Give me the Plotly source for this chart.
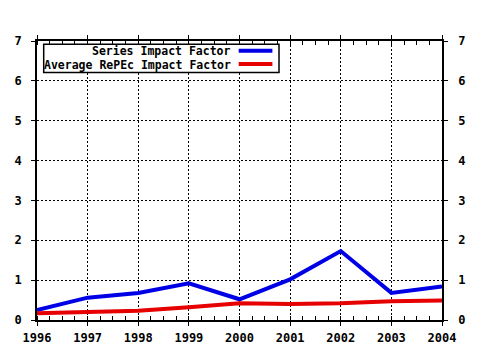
import plotly.graph_objects as go

years = [1996, 1997, 1998, 1999, 2000, 2001, 2002, 2003, 2004]
series_if = [0.25, 0.56, 0.68, 0.92, 0.52, 1.02, 1.73, 0.68, 0.84]
repec_avg = [0.17, 0.20, 0.23, 0.32, 0.42, 0.40, 0.42, 0.47, 0.49]
series_names = ["Series Impact Factor", "Average RePEc Impact Factor"]
colors = ["#0000e6", "#e60000"]

W, H = 480, 350
L, R, T, B = 37.3, 442.3, 40.7, 320.3
FONT = dict(family="DejaVu Sans Mono", size=12, color="black", weight="bold")
LFONT = dict(family="DejaVu Sans Mono", size=11.5, color="black", weight="bold")


def px(x):
    return (x - L) / (R - L)


def py(y):
    return (B - y) / (B - T)


fig = go.Figure()
for name, vals, c in zip(series_names, [series_if, repec_avg], colors):
    fig.add_trace(go.Scatter(x=years, y=vals, mode="lines", name=name,
                             line=dict(color=c, width=4), showlegend=False))
# transparent trace on the right axis so its labels show
fig.add_trace(go.Scatter(x=years, y=repec_avg, yaxis="y2", mode="lines",
                         line=dict(width=0), hoverinfo="skip", showlegend=False,
                         opacity=0))

axis_common = dict(showline=True, linecolor="black", linewidth=1.5,
                   tickfont=FONT, ticks="outside", ticklen=4, tickcolor="black",
                   tickwidth=1, automargin=False)
fig.update_layout(
    width=W, height=H,
    margin=dict(l=L, r=W - R, t=T, b=H - B, autoexpand=False),
    plot_bgcolor="white", paper_bgcolor="white",
    showlegend=False,
    xaxis=dict(range=[1996, 2004], dtick=1, tick0=1996, mirror="allticks",
               showgrid=True, gridcolor="black", griddash="2px,2px", gridwidth=1,
               zeroline=False, ticklabelstandoff=2,
               minor=dict(dtick=0.25, ticks="inside", ticklen=3,
                          tickcolor="black", showgrid=False),
               **axis_common),
    yaxis=dict(range=[0, 7], dtick=1, mirror=True,
               showgrid=True, gridcolor="black", griddash="2px,2px", gridwidth=1,
               zeroline=False, ticklabelstandoff=7, **axis_common),
    yaxis2=dict(range=[0, 7], dtick=1, overlaying="y", side="right",
                showgrid=False, zeroline=False, ticklabelstandoff=8,
                **axis_common),
)

# legend box drawn manually (samples on the right, right-aligned text)
fig.add_shape(type="rect", xref="paper", yref="paper",
              x0=px(44), x1=px(279.3), y0=py(72.3), y1=py(44),
              line=dict(color="black", width=1.5), fillcolor="white", layer="above")
rows = [50.5, 63.8]
for name, c, yy in zip(series_names, colors, rows):
    fig.add_shape(type="line", xref="paper", yref="paper",
                  x0=px(239), x1=px(272.7), y0=py(yy), y1=py(yy),
                  line=dict(color=c, width=4), layer="above")
    fig.add_annotation(text=name, xref="paper", yref="paper",
                       x=px(232), y=py(yy + 0.5), xanchor="right", yanchor="middle",
                       showarrow=False, font=LFONT, borderpad=0)

fig.write_html("out.html")
